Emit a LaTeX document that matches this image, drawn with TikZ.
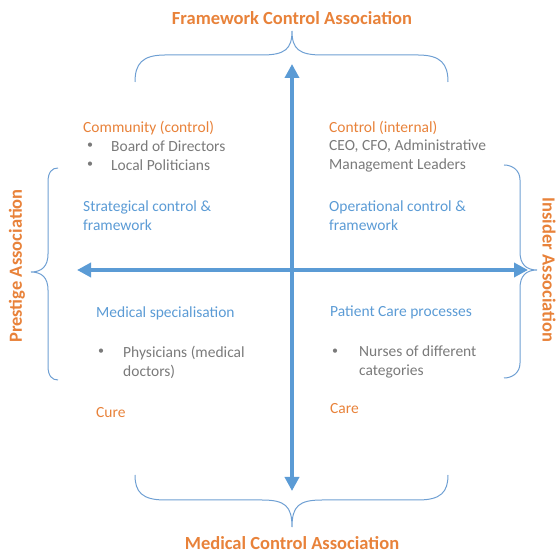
\documentclass[tikz,border=0pt]{standalone}
\usepackage{fontspec}
\setmainfont{Carlito}
\usetikzlibrary{arrows.meta}
\definecolor{accent}{HTML}{E8823A}
\definecolor{axisblue}{HTML}{5B9BD5}
\definecolor{bracecol}{HTML}{6E9FD3}
\definecolor{bodygray}{HTML}{7A7A7A}
\tikzset{
  x=1pt, y=1pt,
  body/.style={font=\fontsize{15.5}{19}\selectfont, inner sep=0pt, anchor=west, align=left},
  head/.style={body, text=accent},
  topic/.style={body, text=axisblue},
  item/.style={body, text=bodygray},
  dot/.style={body, text=bodygray, font=\fontsize{12}{19}\selectfont},
  title/.style={font=\fontsize{18.5}{22}\selectfont\bfseries, text=accent, inner sep=0pt},
  axis/.style={axisblue, line width=3.6pt, {Triangle[width=14pt,length=14pt]}-{Triangle[width=14pt,length=14pt]}},
  brace/.style={bracecol, line width=1pt},
}
\begin{document}
\begin{tikzpicture}
\useasboundingbox (0,0) rectangle (557,554);

% axes
\coordinate (top) at (292,490);
\coordinate (bottom) at (292,63);
\coordinate (left) at (77,284);
\coordinate (right) at (528,284);
\draw[axis] (bottom) -- (top);
\draw[axis] (left) -- (right);

% braces
\draw[brace] (135,472) .. controls (135,490) and (142,499) .. (165,499) -- (262,499)
  .. controls (285,499) and (292,505) .. (292,523)
  .. controls (292,505) and (299,499) .. (322,499) -- (418,499)
  .. controls (441,499) and (448,490) .. (448,472);
\draw[brace] (135,79) .. controls (135,62) and (142,54) .. (165,54) -- (262,54)
  .. controls (285,54) and (292,48) .. (292,27)
  .. controls (292,48) and (299,54) .. (322,54) -- (418,54)
  .. controls (441,54) and (448,62) .. (448,79);
\draw[brace] (58,386) .. controls (52,386) and (48,382) .. (48,372) -- (48,300)
  .. controls (48,288) and (42,282) .. (31,282)
  .. controls (42,282) and (48,276) .. (48,264) -- (48,188)
  .. controls (48,178) and (52,174) .. (58,174);
\draw[brace] (504,389) .. controls (512,389) and (520,384) .. (520,374) -- (520,302)
  .. controls (520,290) and (526,284) .. (537,284)
  .. controls (526,284) and (520,278) .. (520,266) -- (520,191)
  .. controls (520,181) and (512,176) .. (504,176);

% side titles
\node[title] (ttop) at (292,536) {Framework Control Association};
\node[title] (tbot) at (292,11) {Medical Control Association};
\node[title, rotate=90] (tleft) at (17,288) {Prestige Association};
\node[title, rotate=-90] (tright) at (549,284) {Insider Association};

% upper left quadrant
\node[head] (comm) at (83,426) {Community (control)};
\node[dot] (b1) at (87,408) {•};
\node[item] (board) at (111,408) {Board of Directors};
\node[dot] (b2) at (87,389) {•};
\node[item] (pol) at (111,389) {Local Politicians};
\node[topic] (strat) at (83,338) {Strategical control \&\\framework};

% upper right quadrant
\node[head] (ctrl) at (329,426) {Control (internal)};
\node[item] (ceo) at (329,398.5) {CEO, CFO, Administrative\\Management Leaders};
\node[topic] (oper) at (329,338) {Operational control \&\\framework};

% lower left quadrant
\node[topic] (medspec) at (96,241) {Medical specialisation};
\node[dot] (b3) at (98,202) {•};
\node[item] (phys) at (123,192) {Physicians (medical\\doctors)};
\node[head] (cure) at (96,141) {Cure};

% lower right quadrant
\node[topic] (patient) at (330,242) {Patient Care processes};
\node[dot] (b4) at (332,202) {•};
\node[item] (nurse) at (359,192) {Nurses of different\\categories};
\node[head] (care) at (330,145) {Care};
\end{tikzpicture}
\end{document}
